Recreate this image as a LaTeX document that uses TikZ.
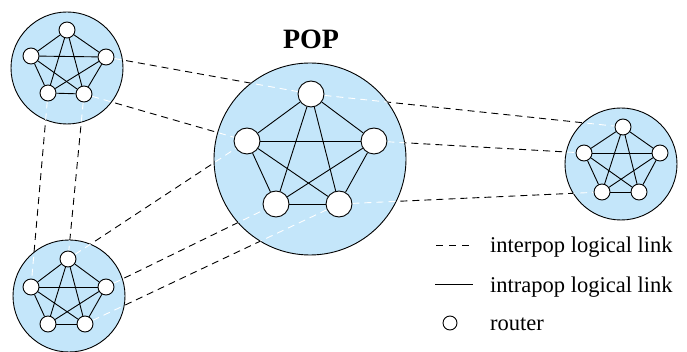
\documentclass[tikz,border=0pt]{standalone}
\usepackage{fontspec}
\setmainfont{Liberation Serif}
\definecolor{popblue}{RGB}{196,230,250}
\pgfdeclarelayer{links}
\pgfdeclarelayer{pops}
\pgfdeclarelayer{glints}
\pgfsetlayers{links,pops,glints,main}
\tikzset{
  popdisc/.style={circle,draw=black,line width=0.9pt,fill=popblue,inner sep=0pt,minimum size=#1},
  router/.style={circle,draw=black,line width=0.9pt,fill=white,inner sep=0pt,minimum size=#1},
  interlink/.style={black,line width=0.9pt,dash pattern=on 7pt off 5pt},
  glintlink/.style={white,line width=0.9pt,dash pattern=on 7pt off 5pt},
  intralink/.style={black,line width=0.9pt},
  legendtext/.style={anchor=base west,inner sep=0pt,font=\fontsize{22.5}{26}\selectfont},
}
\begin{document}
\begin{tikzpicture}[x=1pt,y=-1pt]
\useasboundingbox (0,0) rectangle (687,352);

% routers: 1 top, 2 right, 3 bottom right, 4 bottom left, 5 left
\node[router=16pt] (a1) at (67,30) {};
\node[router=16pt] (a2) at (106,57) {};
\node[router=16pt] (a3) at (84,94) {};
\node[router=16pt] (a4) at (48,93) {};
\node[router=16pt] (a5) at (31,56) {};

\node[router=26pt] (b1) at (311,94) {};
\node[router=26pt] (b2) at (374,141) {};
\node[router=26pt] (b3) at (339,204) {};
\node[router=26pt] (b4) at (276,204) {};
\node[router=26pt] (b5) at (247,141) {};

\node[router=16pt] (c1) at (623,127) {};
\node[router=16pt] (c2) at (660,153) {};
\node[router=16pt] (c3) at (639,192) {};
\node[router=16pt] (c4) at (602,192) {};
\node[router=16pt] (c5) at (584,153) {};

\node[router=16pt] (d1) at (68,259) {};
\node[router=16pt] (d2) at (106,287) {};
\node[router=16pt] (d3) at (85,324) {};
\node[router=16pt] (d4) at (48,324) {};
\node[router=16pt] (d5) at (31,287) {};

% POP discs
\begin{pgfonlayer}{pops}
\node[popdisc=112pt] (popA) at (67,68) {};
\node[popdisc=192pt] (popB) at (310,159) {};
\node[popdisc=112pt] (popC) at (621,164) {};
\node[popdisc=112pt] (popD) at (69,296) {};
\end{pgfonlayer}

\node[anchor=base,inner sep=0pt,font=\fontsize{28}{32}\selectfont\bfseries] (poplabel) at (311,49) {POP};

% full mesh inside each POP
\foreach \p in {a,b,c,d}
  \foreach \i/\j in {1/2,1/3,1/4,1/5,2/3,2/4,2/5,3/4,3/5,4/5}
    \draw[intralink] (\p\i) -- (\p\j);

% links between POPs
\def\interpairs{a2/b1,a3/b5,b1/c1,b2/c5,b3/c4,d1/b5,d2/b4,d3/b3,a4/d5,a3/d1}
\begin{pgfonlayer}{links}
\foreach \u/\v in \interpairs
  \draw[interlink] (\u) -- (\v);
\end{pgfonlayer}
\begin{pgfonlayer}{glints}
\begin{scope}
\clip (popA.center) circle[radius=56] (popB.center) circle[radius=96]
      (popC.center) circle[radius=56] (popD.center) circle[radius=56];
\foreach \u/\v in \interpairs
  \draw[glintlink] (\u) -- (\v);
\end{scope}
\end{pgfonlayer}

% legend
\coordinate (la) at (436,245);
\coordinate (lb) at (473,245);
\draw[black,line width=0.9pt,dash pattern=on 7pt off 6pt] (la) -- (lb);
\node[legendtext] (t1) at (490,253) {interpop logical link};
\coordinate (lc) at (435,284);
\coordinate (ld) at (473,284);
\draw[intralink] (lc) -- (ld);
\node[legendtext] (t2) at (490,292) {intrapop logical link};
\node[router=14pt] (lr) at (450,323) {};
\node[legendtext] (t3) at (490,330) {router};
\end{tikzpicture}
\end{document}
